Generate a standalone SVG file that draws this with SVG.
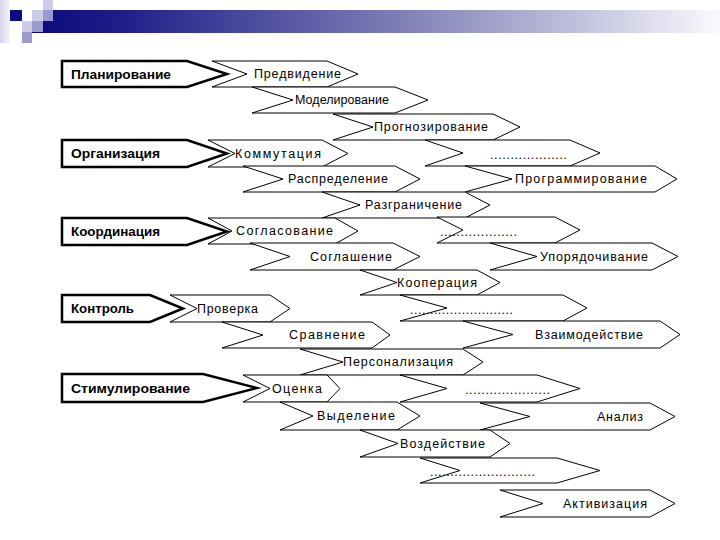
<svg xmlns="http://www.w3.org/2000/svg" width="720" height="540" viewBox="0 0 720 540">
<defs>
<linearGradient id="bar" x1="0" y1="0" x2="1" y2="0">
<stop offset="0" stop-color="#0a0a7e"/>
<stop offset="0.12" stop-color="#1c1c88"/>
<stop offset="0.5" stop-color="#7676b2"/>
<stop offset="0.8" stop-color="#c2c2de"/>
<stop offset="1" stop-color="#fafafd"/>
</linearGradient>
<linearGradient id="strip" x1="0" y1="0" x2="1" y2="0">
<stop offset="0" stop-color="#d4d4ea"/>
<stop offset="1" stop-color="#f4f4fa"/>
</linearGradient>
</defs>
<style>
.ch{fill:#fff;stroke:#000;stroke-width:1}
.bx{fill:#fff;stroke:#000;stroke-width:2.5;stroke-linejoin:miter}
.t{font-family:"Liberation Sans",Arial,sans-serif;font-size:12.5px;fill:#000}
.b{font-family:"Liberation Sans",Arial,sans-serif;font-size:13px;font-weight:bold;fill:#000}
</style>
<rect width="720" height="540" fill="#fff"/>
<g id="header">
<rect x="0" y="0" width="10" height="43" fill="url(#strip)"/>
<rect x="32" y="10" width="688" height="23" fill="url(#bar)"/>
<rect x="10" y="10" width="12" height="11" fill="#0c0c80"/>
<rect x="32" y="10" width="11" height="11" fill="#ccccea"/>
<rect x="43" y="10" width="10" height="11" fill="#9a9acc"/>
<rect x="43" y="0" width="10" height="10" fill="#ccccea"/>
<rect x="22" y="21" width="10" height="11" fill="#ccccea"/>
<rect x="32" y="21" width="11" height="11" fill="#9a9acc"/>
<rect x="22" y="32" width="10" height="11" fill="#9a9acc"/>
</g>

<g id="planirovanie"><polygon class="bx" points="62,61 187,61 227,74 187,87 62,87"/><text class="b" x="71" y="79" textLength="100" lengthAdjust="spacingAndGlyphs">Планирование</text></g>
<g id="organizatsiya"><polygon class="bx" points="62,140 187,140 227,153.5 187,167 62,167"/><text class="b" x="71" y="158" textLength="89" lengthAdjust="spacingAndGlyphs">Организация</text></g>
<g id="koordinatsiya"><polygon class="bx" points="62,218 187,218 227,231.5 187,245 62,245"/><text class="b" x="71" y="236" textLength="89" lengthAdjust="spacingAndGlyphs">Координация</text></g>
<g id="kontrol"><polygon class="bx" points="62,295 150,295 183,308.5 150,322 62,322"/><text class="b" x="71" y="313" textLength="63" lengthAdjust="spacingAndGlyphs">Контроль</text></g>
<g id="stimulirovanie"><polygon class="bx" points="62,374 203,374 257,388 203,402 62,402"/><text class="b" x="71" y="393" textLength="119" lengthAdjust="spacingAndGlyphs">Стимулирование</text></g>

<g id="predvidenie"><polygon class="ch" points="212,61 327,61 358,74 327,87 212,87 247,74"/><text class="t" x="254" y="78" textLength="87" lengthAdjust="spacing">Предвидение</text></g>
<g id="modelirovanie"><polygon class="ch" points="252,87 395,87 428,100 395,113 252,113 293,100"/><text class="t" x="295" y="104" textLength="94" lengthAdjust="spacing">Моделирование</text></g>
<g id="prognozirovanie"><polygon class="ch" points="333,114 493,114 520,127 493,140 333,140 373,127"/><text class="t" x="374" y="131" textLength="114" lengthAdjust="spacing">Прогнозирование</text></g>
<g id="kommutatsiya"><polygon class="ch" points="208,140 322,140 348,153.5 322,167 208,167 235,153.5"/><text class="t" x="235" y="157.5" textLength="86" lengthAdjust="spacing">Коммутация</text></g>
<g id="dots1"><polygon class="ch" points="425,140 570,140 600,153 570,166 425,166 463,153"/><text class="t" x="490" y="159" textLength="77" lengthAdjust="spacing">...................</text></g>
<g id="raspredelenie"><polygon class="ch" points="243,166 395,166 420,179 395,192 243,192 283,179"/><text class="t" x="288" y="183" textLength="100" lengthAdjust="spacing">Распределение</text></g>
<g id="programmirovanie"><polygon class="ch" points="465,166 655,166 677,179 655,192 465,192 512,179"/><text class="t" x="515" y="183" textLength="132" lengthAdjust="spacing">Программирование</text></g>
<g id="razgranichenie"><polygon class="ch" points="322,192 465,192 490,205 465,218 322,218 360,205"/><text class="t" x="365" y="209" textLength="97" lengthAdjust="spacing">Разграничение</text></g>
<g id="soglasovanie"><polygon class="ch" points="208,218 335,218 358,231 335,244 208,244 232,231"/><text class="t" x="236" y="235" textLength="97" lengthAdjust="spacing">Согласование</text></g>
<g id="dots2"><polygon class="ch" points="437,217 555,217 580,230 555,243 437,243 463,230"/><text class="t" x="440" y="236" textLength="77" lengthAdjust="spacing">...................</text></g>
<g id="soglashenie"><polygon class="ch" points="250,243 393,243 420,256.5 393,270 250,270 290,256.5"/><text class="t" x="310" y="260.5" textLength="82" lengthAdjust="spacing">Соглашение</text></g>
<g id="uporyadochivanie"><polygon class="ch" points="490,243 652,243 678,256.5 652,270 490,270 537,256.5"/><text class="t" x="540" y="260.5" textLength="108" lengthAdjust="spacing">Упорядочивание</text></g>
<g id="kooperatsiya"><polygon class="ch" points="360,270 477,270 500,282.5 477,295 360,295 397,282.5"/><text class="t" x="397" y="286.5" textLength="80" lengthAdjust="spacing">Кооперация</text></g>
<g id="proverka"><polygon class="ch" points="170,295 270,295 290,308.5 270,322 170,322 197,308.5"/><text class="t" x="197" y="312.5" textLength="61" lengthAdjust="spacing">Проверка</text></g>
<g id="dots3"><polygon class="ch" points="400,295 563,295 587,308 563,321 400,321 447,308"/><text class="t" x="410" y="314" textLength="103" lengthAdjust="spacing">..........................</text></g>
<g id="sravnenie"><polygon class="ch" points="222,322 372,322 390,335 372,348 222,348 263,335"/><text class="t" x="289" y="339" textLength="76" lengthAdjust="spacing">Сравнение</text></g>
<g id="vzaimodeystvie"><polygon class="ch" points="463,321 660,321 680,334.5 660,348 463,348 513,334.5"/><text class="t" x="535" y="338.5" textLength="108" lengthAdjust="spacing">Взаимодействие</text></g>
<g id="personalizatsiya"><polygon class="ch" points="300,349 463,349 483,362 463,375 300,375 343,362"/><text class="t" x="343" y="366" textLength="110" lengthAdjust="spacing">Персонализация</text></g>
<g id="otsenka"><polygon class="ch" points="243,375 327,375 340,388.5 327,402 243,402 270,388.5"/><text class="t" x="272" y="392.5" textLength="50" lengthAdjust="spacing">Оценка</text></g>
<g id="dots4"><polygon class="ch" points="400,375 537,375 580,388.5 537,402 400,402 447,388.5"/><text class="t" x="465" y="394" textLength="85" lengthAdjust="spacing">.....................</text></g>
<g id="vydelenie"><polygon class="ch" points="280,402 397,402 420,416 397,430 280,430 313,416"/><text class="t" x="317" y="420" textLength="78" lengthAdjust="spacing">Выделение</text></g>
<g id="analiz"><polygon class="ch" points="480,403 650,403 675,416.5 650,430 480,430 530,416.5"/><text class="t" x="597" y="420.5" textLength="46" lengthAdjust="spacing">Анализ</text></g>
<g id="vozdeystvie"><polygon class="ch" points="360,430 490,430 510,443.5 490,457 360,457 398,443.5"/><text class="t" x="400" y="447.5" textLength="85" lengthAdjust="spacing">Воздействие</text></g>
<g id="dots5"><polygon class="ch" points="420,458 557,458 600,470.5 557,483 420,483 460,470.5"/><text class="t" x="430" y="476" textLength="105" lengthAdjust="spacing">..........................</text></g>
<g id="aktivizatsiya"><polygon class="ch" points="500,490 650,490 675,503.5 650,517 500,517 543,503.5"/><text class="t" x="563" y="507.5" textLength="84" lengthAdjust="spacing">Активизация</text></g>
</svg>
